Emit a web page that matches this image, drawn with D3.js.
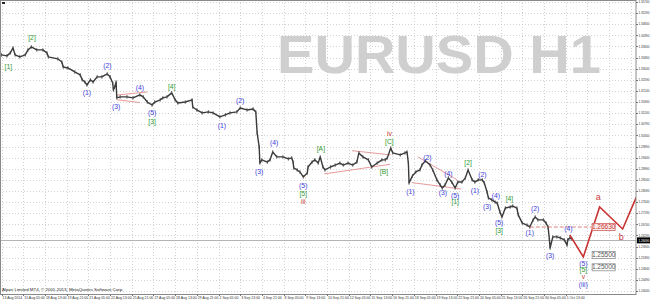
<!DOCTYPE html>
<html>
<head>
<meta charset="utf-8">
<script src="https://cdn.jsdelivr.net/npm/d3@7"></script>
<style>
  body { margin: 0; background: #fff; }
  svg { display: block; font-family: "Liberation Sans", Arial, sans-serif; }
</style>
</head>
<body>
<svg width="650" height="300"></svg>
<script>
// hourly bars counted from the first bar on the chart (13 Aug 2014 21:00)
const bars = [0,8,13,17,20,27,35,39,44,52,61,67,69,83,89,91,98,108,116,119,123,126,131,135,141,148,156,160,164,165,167,169,170,175,185,194,204,209,215,222,226,234,238,244,251,256,260,271,281,282,288,296,305,312,322,330,337,347,352,362,371,375,377,380,381,384,392,396,400,406,415,423,428,430,431,436,440,445,451,452,458,462,467,470,474,477,485,492,499,504,511,518,524,527,533,541,546,554,561,566,569,574,577,588,595,598,600,601,606,611,617,620,625,632,636,642,647,650,654,659,664,669,673,679,684,688,694,698,703,709,712,716,718,723,728,731,735,738,743,750,754,760,762,768,775,779,784,787,791,799,803,806,808,809,813,819,824,830,834,835,838,841];
const prices = [1.3360,1.3356,1.3368,1.3388,1.3360,1.3352,1.3360,1.3380,1.3392,1.3380,1.3380,1.3368,1.3352,1.3344,1.3331,1.3311,1.3307,1.3291,1.3279,1.3259,1.3250,1.3238,1.3259,1.3250,1.3271,1.3271,1.3283,1.3271,1.3246,1.3218,1.3230,1.3250,1.3186,1.3190,1.3190,1.3186,1.3198,1.3190,1.3169,1.3157,1.3169,1.3178,1.3186,1.3190,1.3206,1.3178,1.3165,1.3169,1.3178,1.3149,1.3137,1.3125,1.3129,1.3125,1.3109,1.3117,1.3125,1.3129,1.3145,1.3137,1.3141,1.3129,1.3044,1.2987,1.2922,1.2935,1.2926,1.2935,1.2967,1.2947,1.2947,1.2939,1.2943,1.2926,1.2902,1.2894,1.2886,1.2866,1.2882,1.2906,1.2926,1.2935,1.2922,1.2947,1.2906,1.2894,1.2906,1.2914,1.2922,1.2914,1.2922,1.2914,1.2926,1.2963,1.2947,1.2935,1.2906,1.2922,1.2935,1.2935,1.2943,1.2983,1.2963,1.2955,1.2963,1.2967,1.2922,1.2841,1.2870,1.2886,1.2894,1.2914,1.2931,1.2914,1.2894,1.2854,1.2833,1.2821,1.2833,1.2862,1.2845,1.2821,1.2845,1.2845,1.2862,1.2894,1.2854,1.2845,1.2854,1.2854,1.2841,1.2805,1.2781,1.2773,1.2764,1.2760,1.2724,1.2704,1.2740,1.2744,1.2748,1.2740,1.2712,1.2679,1.2671,1.2663,1.2692,1.2704,1.2692,1.2692,1.2679,1.2663,1.2611,1.2578,1.2623,1.2623,1.2619,1.2611,1.2590,1.2611,1.2619,1.2615];

const timeLabels = ["13 Aug 2014","15 Aug 05:00","18 Aug 13:00","19 Aug 21:00","21 Aug 05:00","22 Aug 13:00","25 Aug 21:00","27 Aug 05:00","28 Aug 13:00","29 Aug 21:00","2 Sep 05:00","3 Sep 13:00","4 Sep 21:00","8 Sep 05:00","9 Sep 13:00","10 Sep 21:00","12 Sep 05:00","15 Sep 13:00","16 Sep 21:00","18 Sep 05:00","19 Sep 13:00","22 Sep 21:00","24 Sep 05:00","25 Sep 13:00","26 Sep 21:00","30 Sep 05:00","1 Oct 13:00"];
const barsPerLabel = 32;

// price scale ticks
const priceTicks = d3.range(27).map(k => 1.2404 + k * 0.0045);
const bidPrice = 1.2609;

// forecast (red zigzag)
const fcBars = [838, 858, 882, 916, 936];
const fcPrices = [1.2631, 1.2542, 1.2744, 1.2655, 1.2783];

// triangles (pink lines): [bar1, price1, bar2, price2]
const triLines = [
  [170, 1.3197, 215, 1.3210],
  [171, 1.3178, 204, 1.3167],
  [517, 1.2972, 574, 1.2955],
  [476, 1.2878, 573, 1.2917],
  [614, 1.2947, 672, 1.2854],
  [605, 1.2843, 678, 1.2817]
];

// target levels
const levelLine = { from: 779, to: 871, price: 1.2663 };
const targetBoxes = [
  { bar: 871, price: 1.2663, text: "1.26630", kind: "red" },
  { bar: 871, price: 1.2550, text: "1.25500", kind: "gray" },
  { bar: 871, price: 1.2500, text: "1.25000", kind: "gray" }
];

// wave labels
const waveText = ["[1]","[2]","(1)","(2)","(3)","(4)","(5)","[3]","[4]","(1)","(2)","(3)","(4)","(5)","[5]","iii","[A]","[B]","[C]","iv","(1)","(2)","(3)","(4)","(5)","[1]","[2]","(1)","(2)","(3)","(4)","(5)","[3]","[4]","(1)","(2)","(3)","(4)","(5)","[5]","v","(iii)","a","b"];
const waveBar = [10,45,126,156,169,204,222,222,251,325,352,380,402,445,445,445,471,564,572,572,603,628,651,659,669,669,688,698,709,716,729,734,734,749,779,787,809,836,858,858,858,858,880,914];
const wavePrice = [1.3311,1.3429,1.3206,1.3315,1.3149,1.3226,1.3125,1.3089,1.3230,1.3072,1.3174,1.2886,1.3003,1.2829,1.2797,1.2764,1.2979,1.2886,1.3008,1.3040,1.2805,1.2943,1.2801,1.2878,1.2789,1.2764,1.2922,1.2809,1.2874,1.2744,1.2789,1.2679,1.2647,1.2777,1.2639,1.2736,1.2546,1.2655,1.2513,1.2489,1.2461,1.2428,1.2781,1.2619];
const waveDegree = ["g","g","b","b","b","b","b","g","g","b","b","b","b","b","g","r","g","g","g","r","b","b","b","b","b","g","g","b","b","b","b","b","g","g","b","b","b","b","b","g","r","b","r","r"];

const colors = { b: "#3d3dd8", g: "#2f9a2f", r: "#c83a3a" };

function drawChart() {
    const svg = d3.select("svg");
    const area = { left: 0, top: 0, right: 636, bottom: 294 };

    const scX = d3.scaleLinear().domain([0, barsPerLabel]).range([1.5, 1.5 + 21.7]);
    const scY = d3.scaleLinear().domain([priceTicks[0], priceTicks[priceTicks.length - 1]]).range([291, 2]);

    svg.append("rect").attr("width", 650).attr("height", 300).attr("fill", "#fff");

    svg.append("defs").append("clipPath").attr("id", "plot")
        .append("rect")
        .attr("x", area.left).attr("y", area.top)
        .attr("width", area.right - area.left).attr("height", area.bottom - area.top);

    // grid
    const grid = svg.append("g").attr("stroke", "#c8c8c8").attr("stroke-dasharray", "1,2").attr("stroke-width", 0.8);
    const vBars = d3.range(0, 960, barsPerLabel).filter(b => scX(b) < area.right);
    grid.selectAll(".gv").data(vBars).enter().append("line")
        .attr("x1", d => Math.round(scX(d)) + 0.5).attr("x2", d => Math.round(scX(d)) + 0.5)
        .attr("y1", area.top).attr("y2", area.bottom);
    grid.selectAll(".gh").data(priceTicks).enter().append("line")
        .attr("x1", area.left).attr("x2", area.right)
        .attr("y1", d => Math.round(scY(d)) + 0.5).attr("y2", d => Math.round(scY(d)) + 0.5);

    // watermark
    svg.append("text")
        .attr("x", 277).attr("y", 73)
        .attr("font-size", 54).attr("font-weight", "bold")
        .attr("fill", "#cfcfcf")
        .attr("textLength", 324).attr("lengthAdjust", "spacingAndGlyphs")
        .text("EURUSD H1");

    const plot = svg.append("g").attr("clip-path", "url(#plot)");

    // bid line
    plot.append("line")
        .attr("x1", area.left).attr("x2", area.right)
        .attr("y1", Math.round(scY(bidPrice)) + 0.5).attr("y2", Math.round(scY(bidPrice)) + 0.5)
        .attr("stroke", "#b4b4b4").attr("stroke-width", 1);

    // triangles
    plot.selectAll(".tri").data(triLines).enter().append("line")
        .attr("x1", d => scX(d[0])).attr("y1", d => scY(d[1]))
        .attr("x2", d => scX(d[2])).attr("y2", d => scY(d[3]))
        .attr("stroke", "#e89a9a").attr("stroke-width", 1);

    // price path
    const pts = bars.map((b, i) => [scX(b), scY(prices[i])]);
    plot.append("path")
        .attr("d", d3.line()(pts))
        .attr("fill", "none").attr("stroke", "#3a3a3a").attr("stroke-width", 1.4)
        .attr("stroke-linejoin", "round");
    plot.selectAll(".tick-bar").data(pts).enter().append("line")
        .attr("x1", d => d[0]).attr("x2", d => d[0])
        .attr("y1", d => d[1] - 1.8).attr("y2", d => d[1] + 1.8)
        .attr("stroke", "#444").attr("stroke-width", 0.8);

    // target level
    plot.append("line")
        .attr("x1", scX(levelLine.from)).attr("x2", scX(levelLine.to))
        .attr("y1", scY(levelLine.price)).attr("y2", scY(levelLine.price))
        .attr("stroke", "#d06060").attr("stroke-dasharray", "4,2").attr("stroke-width", 0.8);

    // forecast
    plot.append("path")
        .attr("d", d3.line()(fcBars.map((b, i) => [scX(b), scY(fcPrices[i])])))
        .attr("fill", "none").attr("stroke", "#c83232").attr("stroke-width", 1.6);

    // boxes
    const box = plot.selectAll(".box").data(targetBoxes).enter().append("g")
        .attr("transform", d => `translate(${scX(d.bar)}, ${scY(d.price)})`);
    box.append("rect")
        .attr("x", 0).attr("y", -3.5).attr("width", 23).attr("height", 7)
        .attr("fill", d => d.kind == "red" ? "#fbeaea" : "#fff")
        .attr("stroke", d => d.kind == "red" ? "#d06060" : "#909090").attr("stroke-width", 0.8);
    box.append("text")
        .attr("x", 11.5).attr("y", 2.2)
        .attr("text-anchor", "middle").attr("font-size", 6.5)
        .attr("fill", d => d.kind == "red" ? "#c83232" : "#555")
        .text(d => d.text);

    // wave labels
    plot.selectAll(".wave").data(waveText).enter().append("text")
        .attr("x", (d, i) => scX(waveBar[i]))
        .attr("y", (d, i) => scY(wavePrice[i]) + 2.4)
        .attr("text-anchor", "middle")
        .attr("font-size", (d, i) => (d == "a" || d == "b") ? 9 : 6.8)
        .attr("fill", (d, i) => colors[waveDegree[i]])
        .text(d => d);

    // frame
    svg.append("rect")
        .attr("x", area.left + 0.5).attr("y", area.top + 0.5)
        .attr("width", area.right - area.left - 0.5).attr("height", area.bottom - area.top)
        .attr("fill", "none").attr("stroke", "#8a8a8a").attr("stroke-width", 1);

    // price axis
    const axY = svg.append("g").attr("font-size", 3.0).attr("fill", "#333");
    axY.selectAll(".yl").data(priceTicks).enter().append("line")
        .attr("x1", area.right).attr("x2", area.right + 2)
        .attr("y1", d => Math.round(scY(d)) + 0.5).attr("y2", d => Math.round(scY(d)) + 0.5)
        .attr("stroke", "#777");
    axY.selectAll(".yt").data(priceTicks).enter().append("text")
        .attr("x", area.right + 2.5).attr("y", d => scY(d) + 1.2)
        .text(d => d3.format(".5f")(d));

    // current price marker
    svg.append("rect")
        .attr("x", area.right + 1).attr("y", scY(bidPrice) - 3)
        .attr("width", 13).attr("height", 6).attr("fill", "#000");
    svg.append("text")
        .attr("x", area.right + 2.5).attr("y", scY(bidPrice) + 1.2)
        .attr("font-size", 3.0).attr("fill", "#fff")
        .text(d3.format(".5f")(bidPrice));

    // time axis
    const axX = svg.append("g").attr("font-size", 3.5).attr("fill", "#333");
    axX.selectAll(".xl").data(timeLabels).enter().append("line")
        .attr("x1", (d, i) => Math.round(scX(i * barsPerLabel)) + 0.5)
        .attr("x2", (d, i) => Math.round(scX(i * barsPerLabel)) + 0.5)
        .attr("y1", area.bottom).attr("y2", area.bottom + 2)
        .attr("stroke", "#777");
    axX.selectAll(".xt").data(timeLabels).enter().append("text")
        .attr("x", (d, i) => scX(i * barsPerLabel) + 1)
        .attr("y", area.bottom + 4.5)
        .text(d => d);

    // copyright
    svg.append("text")
        .attr("x", 2).attr("y", area.bottom - 3)
        .attr("font-size", 4.4).attr("fill", "#222")
        .text("Alpari Limited MT4, \u00a9 2001-2013, MetaQuotes Software Corp.");

    svg.append("rect").attr("x", 2).attr("y", 2).attr("width", 3).attr("height", 2).attr("fill", "#222");
}

drawChart();
</script>
</body>
</html>
